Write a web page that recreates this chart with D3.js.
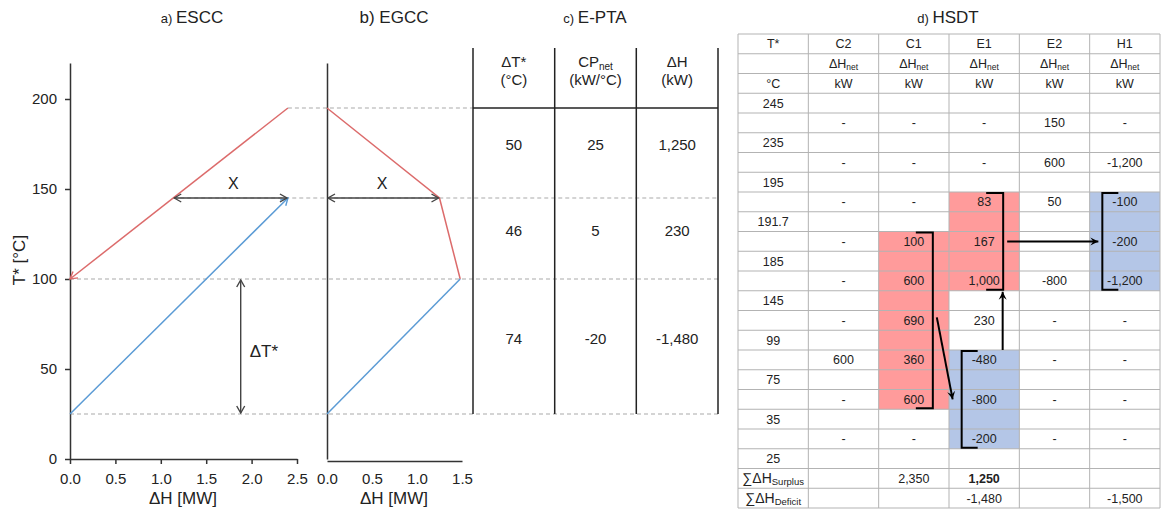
<!DOCTYPE html>
<html>
<head>
<meta charset="utf-8">
<script src="https://cdn.jsdelivr.net/npm/d3@7"></script>
<style>
  body { margin: 0; background: #fff; }
  text { font-family: "Liberation Sans", Arial, sans-serif; fill: #222; }
</style>
</head>
<body>
<script>
// ---- data ----
var tTicks = [0, 50, 100, 150, 200];
var hTicksA = [0, 0.5, 1.0, 1.5, 2.0, 2.5];
var hTicksB = [0, 0.5, 1.0, 1.5];
var hotCC = [{h: 2.4, t: 195}, {h: 0, t: 100}];
var coldCC = [{h: 0, t: 25}, {h: 2.4, t: 145}];
var gccHot = [{h: 0, t: 195}, {h: 1.25, t: 145}, {h: 1.48, t: 100}];
var gccCold = [{h: 1.48, t: 100}, {h: 0, t: 25}];
var shiftLevels = [195, 145, 100, 25];
var pinchT = 145, pinchGap = [1.137, 2.4], gccPinchH = 1.25, dTmin = [25, 100];

var ptaIntervals = [[195, 145], [145, 100], [100, 25]];
var ptaDT = ["50", "46", "74"];
var ptaCP = ["25", "5", "-20"];
var ptaDH = ["1,250", "230", "-1,480"];

var hsdtCols = ["T*", "C2", "C1", "E1", "E2", "H1"];
var hsdtTemps = ["245", "235", "195", "191.7", "185", "145", "99", "75", "35", "25"];
var hsdtC2 = ["-", "-", "-", "-", "-", "-", "600", "-", "-"];
var hsdtC1 = ["-", "-", "-", "100", "600", "690", "360", "600", "-"];
var hsdtE1 = ["-", "-", "83", "167", "1,000", "230", "-480", "-800", "-200"];
var hsdtE2 = ["150", "600", "50", "", "-800", "-", "-", "-", "-"];
var hsdtH1 = ["-", "-1,200", "-100", "-200", "-1,200", "-", "-", "-", "-"];
var hsdtSurplus = ["", "2,350", "1,250", "", ""];
var hsdtDeficit = ["", "", "-1,480", "", "-1,500"];
var hsdtBlocks = [
  {col: "E1", from: "195", to: "145", kind: "surplus"},
  {col: "C1", from: "191.7", to: "35", kind: "surplus"},
  {col: "H1", from: "195", to: "145", kind: "deficit"},
  {col: "E1", from: "99", to: "25", kind: "deficit"}
];

var RED = "#dc6b6b", BLUE = "#5b9bd5", GREY = "#444";

var svg = d3.select("body").append("svg")
    .attr("width", 1161)
    .attr("height", 510);

var defs = svg.append("defs");
function chevron(id, color) {
  defs.append("marker").attr("id", id)
      .attr("viewBox", "-8 -5 9 10").attr("refX", 0).attr("refY", 0)
      .attr("markerWidth", 9).attr("markerHeight", 10)
      .attr("markerUnits", "userSpaceOnUse")
      .attr("orient", "auto-start-reverse")
      .append("path").attr("d", "M-7,-4L0,0L-7,4")
      .attr("fill", "none").attr("stroke", color).attr("stroke-width", 1.4);
}
chevron("arRed", RED); chevron("arBlue", BLUE); chevron("arGrey", GREY);
defs.append("marker").attr("id", "arBlack")
    .attr("viewBox", "-9 -5 10 10").attr("refX", 0).attr("refY", 0)
    .attr("markerWidth", 10).attr("markerHeight", 10)
    .attr("markerUnits", "userSpaceOnUse").attr("orient", "auto")
    .append("path").attr("d", "M-8,-4L0,0L-8,4L-5,0Z").attr("fill", "#000");

// ---- scales ----
var y = d3.scaleLinear().domain([0, 220]).range([459, 63]);
var xa = d3.scaleLinear().domain([0, 2.5]).range([70, 297]);
var xb = d3.scaleLinear().domain([0, 1.5]).range([327, 462]);

function styleAxis(g) {
  g.selectAll(".domain, .tick line").attr("stroke", "#333").attr("stroke-width", 1.5);
  g.selectAll("text").style("font-size", "15px").attr("fill", "#222")
      .style("font-family", "'Liberation Sans', Arial, sans-serif");
}

// dashed shifted-temperature lines
var dashStart = {195: xa(2.4), 145: xa(pinchGap[0]), 100: xa(0), 25: xa(0)};
svg.append("g").selectAll("line").data(shiftLevels).enter().append("line")
    .attr("x1", function(d) { return dashStart[d]; })
    .attr("x2", function(d) { return d === 195 ? 473 : 718; })
    .attr("y1", function(d) { return y(d); })
    .attr("y2", function(d) { return y(d); })
    .attr("stroke", "#aaa").attr("stroke-width", 1.2).attr("stroke-dasharray", "4,3");

// ---- a) ESCC ----
var ga = svg.append("g");
ga.append("g").attr("transform", "translate(" + xa(0) + ",0)")
    .call(d3.axisLeft(y).tickValues(tTicks).tickSize(5).tickSizeOuter(0).tickPadding(8))
    .call(styleAxis);
ga.append("g").attr("transform", "translate(0," + y(0) + ")")
    .call(d3.axisBottom(xa).tickValues(hTicksA).tickFormat(d3.format(".1f")).tickSize(5).tickSizeOuter(0).tickPadding(9))
    .call(styleAxis);

var lineA = d3.line().x(function(d) { return xa(d.h); }).y(function(d) { return y(d.t); });
ga.append("path").attr("d", lineA(hotCC)).attr("fill", "none").attr("stroke", RED)
    .attr("stroke-width", 1.5).attr("marker-end", "url(#arRed)");
ga.append("path").attr("d", lineA(coldCC)).attr("fill", "none").attr("stroke", BLUE)
    .attr("stroke-width", 1.5).attr("marker-end", "url(#arBlue)");

ga.append("line").attr("x1", xa(pinchGap[0]) + 1).attr("x2", xa(pinchGap[1]) - 1)
    .attr("y1", y(pinchT)).attr("y2", y(pinchT))
    .attr("stroke", GREY).attr("stroke-width", 1.4)
    .attr("marker-start", "url(#arGrey)").attr("marker-end", "url(#arGrey)");
ga.append("text").attr("x", xa(1.8)).attr("y", y(153)).attr("dy", "0.35em")
    .attr("text-anchor", "middle").style("font-size", "16px").text("X");

ga.append("line").attr("x1", xa(1.88)).attr("x2", xa(1.88))
    .attr("y1", y(dTmin[1]) + 1).attr("y2", y(dTmin[0]) - 1)
    .attr("stroke", GREY).attr("stroke-width", 1.4)
    .attr("marker-start", "url(#arGrey)").attr("marker-end", "url(#arGrey)");
ga.append("text").attr("x", xa(1.88) + 9).attr("y", y(60)).attr("dy", "0.35em")
    .style("font-size", "17px").text("ΔT*");

ga.append("text").attr("transform", "translate(25,260) rotate(-90)")
    .attr("text-anchor", "middle").style("font-size", "17px").text("T* [°C]");
ga.append("text").attr("x", 183).attr("y", 504).attr("text-anchor", "middle")
    .style("font-size", "17px").text("ΔH [MW]");

function title(x, small, big, sameSize) {
  var t = svg.append("text").attr("x", x).attr("y", 23).attr("text-anchor", "middle");
  t.append("tspan").style("font-size", sameSize ? "17px" : "13px").text(small + " ");
  t.append("tspan").style("font-size", "17px").text(big);
}
title(192, "a)", "ESCC", false);
title(394, "b)", "EGCC", true);
title(595, "c)", "E-PTA", false);
title(948, "d)", "HSDT", false);

// ---- b) EGCC ----
var gb = svg.append("g");
gb.append("g").attr("transform", "translate(" + xb(0) + ",0)")
    .call(d3.axisLeft(y).tickValues([]).tickSizeOuter(0))
    .call(styleAxis);
gb.append("g").attr("transform", "translate(0," + (y(0) + 2) + ")")
    .call(d3.axisBottom(xb).tickValues(hTicksB).tickFormat(d3.format(".1f")).tickSize(0).tickSizeOuter(0).tickPadding(12))
    .call(styleAxis);
var lineB = d3.line().x(function(d) { return xb(d.h); }).y(function(d) { return y(d.t); });
gb.append("path").attr("d", lineB(gccHot)).attr("fill", "none").attr("stroke", RED).attr("stroke-width", 1.5);
gb.append("path").attr("d", lineB(gccCold)).attr("fill", "none").attr("stroke", BLUE).attr("stroke-width", 1.5);
gb.append("line").attr("x1", xb(0) + 1).attr("x2", xb(gccPinchH) - 1)
    .attr("y1", y(pinchT)).attr("y2", y(pinchT))
    .attr("stroke", GREY).attr("stroke-width", 1.4)
    .attr("marker-start", "url(#arGrey)").attr("marker-end", "url(#arGrey)");
gb.append("text").attr("x", 382).attr("y", y(153)).attr("dy", "0.35em")
    .attr("text-anchor", "middle").style("font-size", "16px").text("X");
gb.append("text").attr("x", 394).attr("y", 504).attr("text-anchor", "middle")
    .style("font-size", "17px").text("ΔH [MW]");

// ---- c) E-PTA ----
var gc = svg.append("g");
var ptaX = d3.scaleBand().domain([0, 1, 2]).range([473, 718]);
[473, 554.7, 636.3, 718].forEach(function(x) {
  gc.append("line").attr("x1", x).attr("x2", x).attr("y1", 48).attr("y2", y(25))
      .attr("stroke", "#222").attr("stroke-width", 1.5);
});
gc.append("line").attr("x1", 473).attr("x2", 718).attr("y1", y(195)).attr("y2", y(195))
    .attr("stroke", "#222").attr("stroke-width", 1.5);
var hdr = [["ΔT*", "(°C)"], ["CP", "(kW/°C)"], ["ΔH", "(kW)"]];
hdr.forEach(function(h, i) {
  var cx = ptaX(i) + ptaX.bandwidth() / 2;
  var t1 = gc.append("text").attr("x", cx).attr("y", 67).attr("text-anchor", "middle").style("font-size", "15px");
  t1.append("tspan").text(h[0]);
  if (i === 1) t1.append("tspan").attr("dy", 3).style("font-size", "10px").text("net");
  gc.append("text").attr("x", cx).attr("y", 85).attr("text-anchor", "middle").style("font-size", "15px").text(h[1]);
});
[ptaDT, ptaCP, ptaDH].forEach(function(col, i) {
  gc.selectAll(null).data(col).enter().append("text")
      .attr("x", ptaX(i) + ptaX.bandwidth() / 2)
      .attr("y", function(d, j) { return (y(ptaIntervals[j][0]) + y(ptaIntervals[j][1])) / 2 - 8; })
      .attr("dy", "0.35em").attr("text-anchor", "middle").style("font-size", "15px")
      .text(function(d) { return d; });
});

// ---- d) HSDT ----
var gd = svg.append("g");
var colX = d3.scaleBand().domain(hsdtCols).range([738, 1160]);
var rowY = d3.scaleBand().domain(d3.range(24)).range([34, 508]);
var cx = function(c) { return colX(c) + colX.bandwidth() / 2; };
var cy = function(r) { return rowY(r) + rowY.bandwidth() / 2; };
var tRow = function(t) { return 3 + 2 * hsdtTemps.indexOf(t); };

// shaded blocks
hsdtBlocks.forEach(function(b) {
  b.y0 = rowY(tRow(b.from) + 1);
  b.y1 = rowY(tRow(b.to) - 1) + rowY.bandwidth();
  gd.append("rect").attr("x", colX(b.col)).attr("width", colX.bandwidth())
      .attr("y", b.y0).attr("height", b.y1 - b.y0)
      .attr("fill", b.kind === "surplus" ? "#ff9b9b" : "#b4c6e7");
});

// grid
d3.range(25).forEach(function(r) {
  var yy = r < 24 ? rowY(r) : 508;
  gd.append("line").attr("x1", 738).attr("x2", 1160).attr("y1", yy).attr("y2", yy)
      .attr("stroke", "#b3b3b3").attr("stroke-width", 1);
});
hsdtCols.concat(["end"]).forEach(function(c) {
  var xx = c === "end" ? 1160 : colX(c);
  gd.append("line").attr("x1", xx).attr("x2", xx).attr("y1", 34).attr("y2", 508)
      .attr("stroke", "#b3b3b3").attr("stroke-width", 1);
});

// cells
var cells = [];
hsdtCols.forEach(function(c, i) {
  cells.push({col: c, row: 0, text: c});
  if (i > 0) cells.push({col: c, row: 1, text: "ΔH", sub: "net"});
  cells.push({col: c, row: 2, text: i === 0 ? "°C" : "kW"});
});
hsdtTemps.forEach(function(t, i) { cells.push({col: "T*", row: 3 + 2 * i, text: t}); });
[hsdtC2, hsdtC1, hsdtE1, hsdtE2, hsdtH1].forEach(function(vals, k) {
  vals.forEach(function(v, i) { cells.push({col: hsdtCols[k + 1], row: 4 + 2 * i, text: v}); });
  cells.push({col: hsdtCols[k + 1], row: 22, text: hsdtSurplus[k], bold: hsdtSurplus[k] === "1,250"});
  cells.push({col: hsdtCols[k + 1], row: 23, text: hsdtDeficit[k]});
});
cells.push({col: "T*", row: 22, text: "∑ΔH", sub: "Surplus", big: true});
cells.push({col: "T*", row: 23, text: "∑ΔH", sub: "Deficit", big: true});

var ct = gd.selectAll(".cell").data(cells).enter().append("text")
    .attr("class", "cell")
    .attr("x", function(d) { return cx(d.col); })
    .attr("y", function(d) { return cy(d.row); })
    .attr("dy", "0.35em").attr("text-anchor", "middle")
    .style("font-size", function(d) { return d.big ? "14px" : "12.5px"; })
    .style("font-weight", function(d) { return d.bold ? "bold" : "normal"; });
ct.append("tspan").text(function(d) { return d.text; });
ct.filter(function(d) { return d.sub; }).append("tspan")
    .attr("dy", 2).style("font-size", function(d) { return d.big ? "9.5px" : "8.5px"; })
    .text(function(d) { return d.sub; });

// brackets
hsdtBlocks.forEach(function(b) {
  var xv, xe;
  if (b.kind === "surplus") { xv = cx(b.col) + 19; xe = xv - 17; }
  else { xv = cx(b.col) - 22.5; xe = xv + 16; }
  b.xv = xv;
  gd.append("path")
      .attr("d", "M" + xe + "," + (b.y0 + 1) + "H" + xv + "V" + (b.y1 - 1) + "H" + xe)
      .attr("fill", "none").attr("stroke", "#000").attr("stroke-width", 2);
});

// transfer arrows
var bE1s = hsdtBlocks[0], bC1 = hsdtBlocks[1], bH1 = hsdtBlocks[2], bE1d = hsdtBlocks[3];
var arrows = [
  [bE1s.xv + 4, cy(tRow("191.7") + 1), bH1.xv - 4, cy(tRow("191.7") + 1)],
  [bC1.xv + 4, cy(tRow("145") + 1) - 3, bE1d.xv - 9, cy(tRow("75") + 1)],
  [cx("E1") + 18.5, bE1d.y0, cx("E1") + 18.5, bE1s.y1 + 1]
];
gd.selectAll(".arr").data(arrows).enter().append("line").attr("class", "arr")
    .attr("x1", function(d) { return d[0]; }).attr("y1", function(d) { return d[1]; })
    .attr("x2", function(d) { return d[2]; }).attr("y2", function(d) { return d[3]; })
    .attr("stroke", "#000").attr("stroke-width", 2).attr("marker-end", "url(#arBlack)");
</script>
</body>
</html>
